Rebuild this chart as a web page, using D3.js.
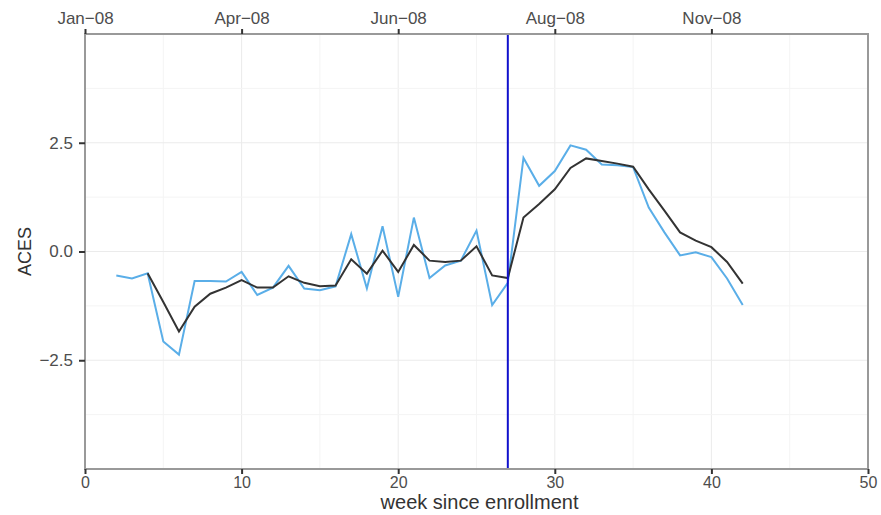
<!DOCTYPE html>
<html><head><meta charset="utf-8">
<script src="https://cdn.jsdelivr.net/npm/d3@7"></script>
<style>body{margin:0;background:#fff;} text{font-family:"Liberation Sans",Arial,sans-serif;}</style>
</head><body>
<svg id="c" width="881" height="515"></svg>
<script>
const weeks = d3.range(2, 43);
const rawValues = [-0.55,-0.62,-0.5,-2.07,-2.37,-0.68,-0.68,-0.69,-0.47,-1.0,-0.83,-0.33,-0.85,-0.89,-0.8,0.40,-0.85,0.58,-1.04,0.78,-0.61,-0.32,-0.21,0.48,-1.23,-0.72,2.15,1.51,1.85,2.44,2.34,2.0,1.98,1.94,1.01,0.44,-0.09,-0.02,-0.13,-0.62,-1.23];
const smoothWeeks = d3.range(4, 43);
const smoothValues = [-0.5,-1.16,-1.84,-1.27,-0.97,-0.83,-0.66,-0.83,-0.83,-0.57,-0.72,-0.8,-0.78,-0.18,-0.51,0.02,-0.47,0.15,-0.21,-0.24,-0.21,0.12,-0.55,-0.61,0.78,1.09,1.43,1.92,2.14,2.08,2.02,1.95,1.43,0.94,0.44,0.25,0.1,-0.24,-0.74];
const eventWeek = 27;
const bottomTicks = [0,10,20,30,40,50];
const topTickWeeks = [0,10,20,30,40];
const topTickLabels = ["Jan\u221208","Apr\u221208","Jun\u221208","Aug\u221208","Nov\u221208"];
const yTicks = [-2.5,0,2.5];

const svg = d3.select("#c");
const L=85, R=868, T=34, B=469;
const x = d3.scaleLinear().domain([0,50]).range([L,R]);
const y = d3.scaleLinear().domain([-5,5]).range([B,T]);

// grid
const g = svg.append("g");
const minorX = d3.range(5,50,10), majorX=[10,20,30,40];
const minorY = [-3.75,-1.25,1.25,3.75];
g.selectAll(".mx").data(minorX).join("line").attr("x1",d=>x(d)).attr("x2",d=>x(d)).attr("y1",T).attr("y2",B).attr("stroke","#f4f4f4").attr("stroke-width",1);
g.selectAll(".Mx").data(majorX).join("line").attr("x1",d=>x(d)).attr("x2",d=>x(d)).attr("y1",T).attr("y2",B).attr("stroke","#ebebeb").attr("stroke-width",1);
g.selectAll(".my").data(minorY).join("line").attr("y1",d=>y(d)).attr("y2",d=>y(d)).attr("x1",L).attr("x2",R).attr("stroke","#f4f4f4").attr("stroke-width",1);
g.selectAll(".My").data(yTicks).join("line").attr("y1",d=>y(d)).attr("y2",d=>y(d)).attr("x1",L).attr("x2",R).attr("stroke","#ebebeb").attr("stroke-width",1);

// lines
const line = d3.line().x(d=>x(d[0])).y(d=>y(d[1]));
svg.append("path").datum(weeks.map((w,i)=>[w,rawValues[i]])).attr("d",line).attr("fill","none").attr("stroke","#5aaee8").attr("stroke-width",2);
svg.append("path").datum(smoothWeeks.map((w,i)=>[w,smoothValues[i]])).attr("d",line).attr("fill","none").attr("stroke","#333").attr("stroke-width",2);
svg.append("line").attr("x1",x(eventWeek)).attr("x2",x(eventWeek)).attr("y1",T).attr("y2",B).attr("stroke","#1010cc").attr("stroke-width",2);

// frame
svg.append("rect").attr("x",L).attr("y",T).attr("width",R-L).attr("height",B-T).attr("fill","none").attr("stroke","#999").attr("stroke-width",2);

// axes
const ax = svg.append("g").attr("transform",`translate(0,${B})`).call(d3.axisBottom(x).tickValues(bottomTicks).tickFormat(d3.format("d")).tickSize(5).tickPadding(3));
const ay = svg.append("g").attr("transform",`translate(${L},0)`).call(d3.axisLeft(y).tickValues(yTicks).tickFormat(d=>d3.format(".1f")(d).replace("-","\u2212")).tickSize(6).tickPadding(6));
const at = svg.append("g").attr("transform",`translate(0,${T})`).call(d3.axisTop(x).tickValues(topTickWeeks).tickFormat((d,i)=>topTickLabels[i]).tickSize(5).tickPadding(5));
[ax,ay,at].forEach(a=>{
  a.select(".domain").remove();
  a.selectAll(".tick line").attr("stroke","#333").attr("stroke-width",2);
  a.selectAll(".tick text").attr("fill","#4d4d4d").style("font-size","16px").style("font-family","Liberation Sans, Arial, sans-serif");
});
at.selectAll(".tick text").style("font-size","17px");
ay.selectAll(".tick text").style("font-size","17px");

svg.append("text").attr("x",(L+R)/2+3).attr("y",509).attr("text-anchor","middle").attr("fill","#333").style("font-size","20px").text("week since enrollment");
svg.append("text").attr("transform",`translate(31,${y(0)}) rotate(-90)`).attr("text-anchor","middle").attr("fill","#333").style("font-size","18px").text("ACES");
</script>
</body></html>
